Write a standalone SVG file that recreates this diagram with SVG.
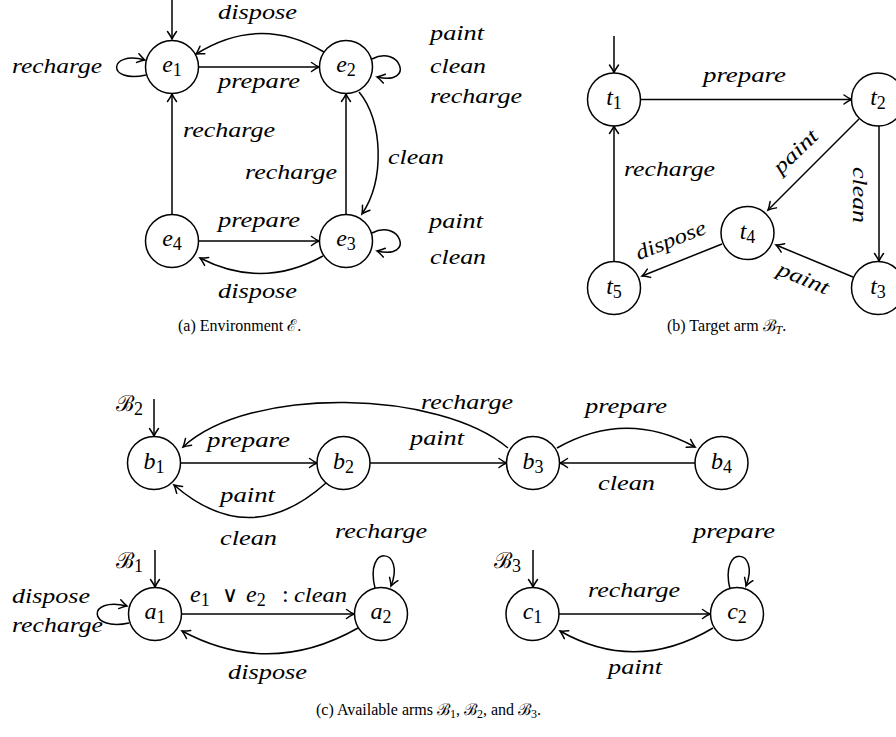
<svg xmlns="http://www.w3.org/2000/svg" width="896" height="737" viewBox="0 0 896 737">
<style>
.nd{fill:#fff;stroke:#000;stroke-width:1.5}
.ed{fill:none;stroke:#000;stroke-width:1.5;marker-end:url(#ah)}
.lb{font-family:"Liberation Serif","DejaVu Serif",serif;font-style:italic;font-size:21px;fill:#000}
.mt{font-family:"Liberation Serif","DejaVu Serif",serif;font-style:italic;font-size:24px;fill:#000}
.sb{font-style:normal;font-size:18px}
.op{font-family:"DejaVu Sans",sans-serif;font-style:normal;font-weight:normal;font-size:22px}
.sc{font-family:"Liberation Serif","DejaVu Serif",serif;font-size:22px;fill:#000}
.cp{font-family:"Liberation Serif","DejaVu Serif",serif;font-size:16px;fill:#000}
</style>
<defs>
<marker id="ah" viewBox="-10 -6 12 12" refX="0" refY="0" markerWidth="12" markerHeight="12" markerUnits="userSpaceOnUse" orient="auto" overflow="visible">
<path d="M-7.5,-4.5 Q-2.5,-1 0,0 Q-2.5,1 -7.5,4.5" fill="none" stroke="#000" stroke-width="1.5" stroke-linecap="round"/>
</marker>
</defs>
<rect width="896" height="737" fill="#fff"/>

<g id="connectors">
<!-- (a) environment -->
<path class="ed" d="M172,0 L172,39"/>
<path class="ed" d="M199,67 L319,67"/>
<path class="ed" d="M324,52 Q260,14 196,54"/>
<path class="ed" d="M372,59 C400,44 416,86 377,77"/>
<path class="ed" d="M146,75 C106,84 108,50 145,60"/>
<path class="ed" d="M359,92 C383,120 385,180 362,214"/>
<path class="ed" d="M346,214.5 L346,94"/>
<path class="ed" d="M172,214.5 L172,94"/>
<path class="ed" d="M198.5,241 L319,241"/>
<path class="ed" d="M323,256 Q262,290 200,258"/>
<path class="ed" d="M372,233 C400,218 416,260 377,251"/>
<!-- (b) target -->
<path class="ed" d="M614,36 L614,72.5"/>
<path class="ed" d="M641,99.5 L851.5,99.5"/>
<path class="ed" d="M859,119 L768,210"/>
<path class="ed" d="M879,126 L879,261"/>
<path class="ed" d="M853,277 L776,245"/>
<path class="ed" d="M722,244 L642,276"/>
<path class="ed" d="M614,261.5 L614,126"/>
<!-- (c) B2 -->
<path class="ed" d="M154,399 L154,436"/>
<path class="ed" d="M180.5,463 L317,463"/>
<path class="ed" d="M370,463 L506.5,463"/>
<path class="ed" d="M508,448 C440,390 250,385 183,447"/>
<path class="ed" d="M326,483 Q250,551 174,485"/>
<path class="ed" d="M557,448 Q626,409 695,447"/>
<path class="ed" d="M695,463 L560,463"/>
<!-- B1 -->
<path class="ed" d="M155,550 L155,587"/>
<path class="ed" d="M129,623 C88,632 86,596 127,606"/>
<path class="ed" d="M181.5,614 L354,614"/>
<path class="ed" d="M358,628 Q270,678 182,631"/>
<path class="ed" d="M375,588 C364,543 406,548 391,586"/>
<!-- B3 -->
<path class="ed" d="M533,550 L533,587"/>
<path class="ed" d="M559,614 L710,614"/>
<path class="ed" d="M713,628 Q636,674 560,631"/>
<path class="ed" d="M730,589 C719,544 761,548 746,586"/>
</g>

<g id="edge-labels">
<text class="lb" x="218" y="19" textLength="79" lengthAdjust="spacingAndGlyphs">dispose</text>
<text class="lb" x="12" y="73" textLength="90" lengthAdjust="spacingAndGlyphs">recharge</text>
<text class="lb" x="218" y="88" textLength="82" lengthAdjust="spacingAndGlyphs">prepare</text>
<text class="lb" x="430" y="40" textLength="54" lengthAdjust="spacingAndGlyphs">paint</text>
<text class="lb" x="430" y="73" textLength="56" lengthAdjust="spacingAndGlyphs">clean</text>
<text class="lb" x="430" y="103" textLength="92" lengthAdjust="spacingAndGlyphs">recharge</text>
<text class="lb" x="388" y="164" textLength="56" lengthAdjust="spacingAndGlyphs">clean</text>
<text class="lb" x="183" y="137" textLength="92" lengthAdjust="spacingAndGlyphs">recharge</text>
<text class="lb" x="245" y="179" textLength="92" lengthAdjust="spacingAndGlyphs">recharge</text>
<text class="lb" x="218" y="227" textLength="82" lengthAdjust="spacingAndGlyphs">prepare</text>
<text class="lb" x="218" y="298" textLength="79" lengthAdjust="spacingAndGlyphs">dispose</text>
<text class="lb" x="429" y="228" textLength="54" lengthAdjust="spacingAndGlyphs">paint</text>
<text class="lb" x="430" y="264" textLength="56" lengthAdjust="spacingAndGlyphs">clean</text>

<text class="lb" x="703" y="82" textLength="83" lengthAdjust="spacingAndGlyphs">prepare</text>
<text class="lb" x="624" y="176" textLength="91" lengthAdjust="spacingAndGlyphs">recharge</text>
<text class="lb" transform="translate(796,152) rotate(-44)" x="-27" y="6" textLength="54" lengthAdjust="spacingAndGlyphs">paint</text>
<text class="lb" transform="translate(859,195) rotate(90)" x="-28" y="6" textLength="56" lengthAdjust="spacingAndGlyphs">clean</text>
<text class="lb" transform="translate(671,241) rotate(-21.8)" x="-37" y="6" textLength="74" lengthAdjust="spacingAndGlyphs">dispose</text>
<text class="lb" transform="translate(803,279) rotate(22.6)" x="-27" y="6" textLength="54" lengthAdjust="spacingAndGlyphs">paint</text>

<text class="lb" x="207" y="447" textLength="83" lengthAdjust="spacingAndGlyphs">prepare</text>
<text class="lb" x="410" y="445" textLength="54" lengthAdjust="spacingAndGlyphs">paint</text>
<text class="lb" x="421" y="409" textLength="92" lengthAdjust="spacingAndGlyphs">recharge</text>
<text class="lb" x="585" y="413" textLength="82" lengthAdjust="spacingAndGlyphs">prepare</text>
<text class="lb" x="598" y="490" textLength="57" lengthAdjust="spacingAndGlyphs">clean</text>
<text class="lb" x="220" y="502" textLength="55" lengthAdjust="spacingAndGlyphs">paint</text>
<text class="lb" x="220" y="545" textLength="57" lengthAdjust="spacingAndGlyphs">clean</text>

<text class="lb" x="12" y="603" textLength="78" lengthAdjust="spacingAndGlyphs">dispose</text>
<text class="lb" x="12" y="632" textLength="91" lengthAdjust="spacingAndGlyphs">recharge</text>
<text class="mt" y="602"><tspan x="190">e</tspan><tspan class="sb" dy="4">1</tspan><tspan class="op" x="222" dy="-4">∨</tspan><tspan x="246">e</tspan><tspan class="sb" dy="4">2</tspan><tspan x="282" dy="-4" style="font-style:normal">:</tspan></text>
<text class="lb" x="294" y="602" textLength="53" lengthAdjust="spacingAndGlyphs">clean</text>
<text class="lb" x="335" y="538" textLength="92" lengthAdjust="spacingAndGlyphs">recharge</text>
<text class="lb" x="228" y="679" textLength="79" lengthAdjust="spacingAndGlyphs">dispose</text>

<text class="lb" x="588" y="597" textLength="92" lengthAdjust="spacingAndGlyphs">recharge</text>
<text class="lb" x="693" y="538" textLength="82" lengthAdjust="spacingAndGlyphs">prepare</text>
<text class="lb" x="608" y="674" textLength="54" lengthAdjust="spacingAndGlyphs">paint</text>

<text class="sc" x="116" y="411">ℬ<tspan class="sb" dy="4">2</tspan></text>
<text class="sc" x="116" y="568">ℬ<tspan class="sb" dy="4">1</tspan></text>
<text class="sc" x="494" y="568">ℬ<tspan class="sb" dy="4">3</tspan></text>
</g>

<g id="e1"><circle class="nd" cx="172" cy="67" r="26.5"/><text class="mt" x="172" y="72" text-anchor="middle">e<tspan class="sb" dy="4">1</tspan></text></g>
<g id="e2"><circle class="nd" cx="346" cy="67" r="26.5"/><text class="mt" x="346" y="72" text-anchor="middle">e<tspan class="sb" dy="4">2</tspan></text></g>
<g id="e3"><circle class="nd" cx="346" cy="241" r="26.5"/><text class="mt" x="346" y="246" text-anchor="middle">e<tspan class="sb" dy="4">3</tspan></text></g>
<g id="e4"><circle class="nd" cx="172" cy="241" r="26.5"/><text class="mt" x="172" y="246" text-anchor="middle">e<tspan class="sb" dy="4">4</tspan></text></g>

<g id="t1"><circle class="nd" cx="614" cy="99.5" r="26.5"/><text class="mt" x="614" y="105" text-anchor="middle">t<tspan class="sb" dy="4">1</tspan></text></g>
<g id="t2"><circle class="nd" cx="878" cy="99.5" r="26.5"/><text class="mt" x="878" y="105" text-anchor="middle">t<tspan class="sb" dy="4">2</tspan></text></g>
<g id="t3"><circle class="nd" cx="878" cy="288" r="26.5"/><text class="mt" x="878" y="294" text-anchor="middle">t<tspan class="sb" dy="4">3</tspan></text></g>
<g id="t4"><circle class="nd" cx="747.5" cy="233" r="26.5"/><text class="mt" x="747.5" y="239" text-anchor="middle">t<tspan class="sb" dy="4">4</tspan></text></g>
<g id="t5"><circle class="nd" cx="614" cy="288" r="26.5"/><text class="mt" x="614" y="294" text-anchor="middle">t<tspan class="sb" dy="4">5</tspan></text></g>

<g id="b1"><circle class="nd" cx="154" cy="463" r="26.5"/><text class="mt" x="154" y="469" text-anchor="middle">b<tspan class="sb" dy="4">1</tspan></text></g>
<g id="b2"><circle class="nd" cx="343.5" cy="463" r="26.5"/><text class="mt" x="343.5" y="469" text-anchor="middle">b<tspan class="sb" dy="4">2</tspan></text></g>
<g id="b3"><circle class="nd" cx="533" cy="463" r="26.5"/><text class="mt" x="533" y="469" text-anchor="middle">b<tspan class="sb" dy="4">3</tspan></text></g>
<g id="b4"><circle class="nd" cx="721.5" cy="463" r="26.5"/><text class="mt" x="721.5" y="469" text-anchor="middle">b<tspan class="sb" dy="4">4</tspan></text></g>

<g id="a1"><circle class="nd" cx="155" cy="614" r="26.5"/><text class="mt" x="155" y="619" text-anchor="middle">a<tspan class="sb" dy="4">1</tspan></text></g>
<g id="a2"><circle class="nd" cx="381" cy="614" r="26.5"/><text class="mt" x="381" y="619" text-anchor="middle">a<tspan class="sb" dy="4">2</tspan></text></g>

<g id="c1"><circle class="nd" cx="532.5" cy="614" r="26.5"/><text class="mt" x="532.5" y="619" text-anchor="middle">c<tspan class="sb" dy="4">1</tspan></text></g>
<g id="c2"><circle class="nd" cx="737" cy="614" r="26.5"/><text class="mt" x="737" y="619" text-anchor="middle">c<tspan class="sb" dy="4">2</tspan></text></g>

<g id="captions">
<text class="cp" x="178" y="331">(a)  Environment ℰ.</text>
<text class="cp" x="667" y="331">(b)  Target arm ℬ<tspan dy="3" font-size="12" font-style="italic">T</tspan><tspan dy="-3">.</tspan></text>
<text class="cp" x="316" y="715">(c)  Available arms ℬ<tspan dy="3" font-size="12">1</tspan><tspan dy="-3">, ℬ</tspan><tspan dy="3" font-size="12">2</tspan><tspan dy="-3">, and ℬ</tspan><tspan dy="3" font-size="12">3</tspan><tspan dy="-3">.</tspan></text>
</g>
</svg>
